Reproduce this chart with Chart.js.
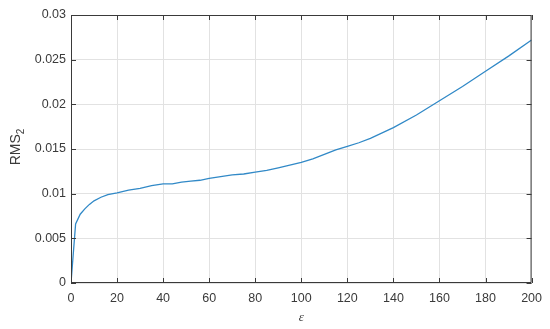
<!DOCTYPE html>
<html>
<head>
<meta charset="utf-8">
<script src="https://cdn.jsdelivr.net/npm/chart.js@4.4.1/dist/chart.umd.min.js"></script>
<style>
 html,body{margin:0;padding:0;background:#fff;}
 #wrap{width:550px;height:329px;}
</style>
</head>
<body>
<div id="wrap"><canvas id="rmsChart" width="550" height="329"></canvas></div>
<script>
// values
const epsValues = [0,2,4,6,8,10,13,16,20,25,30,35,40,44,48,52,56,60,65,70,75,80,85,90,95,100,105,110,115,120,125,130,140,150,160,170,180,190,200];
const rmsValues = [0,0.0066,0.0077,0.0083,0.0088,0.0092,0.0096,0.0099,0.0101,0.0104,0.0106,0.0109,0.0111,0.0111,0.0113,0.0114,0.0115,0.0117,0.0119,0.0121,0.0122,0.0124,0.0126,0.0129,0.0132,0.0135,0.0139,0.0144,0.0149,0.0153,0.0157,0.0162,0.0174,0.0188,0.0204,0.0220,0.0237,0.0254,0.0272];
const xTicks = [0,20,40,60,80,100,120,140,160,180,200];
const yTicks = [0,0.005,0.01,0.015,0.02,0.025,0.03];

const axisColor = '#3a3a3a';
const textColor = '#3a3a3a';
const fontFam = '"Liberation Sans", Arial, sans-serif';

// box + inward ticks + axis titles, MATLAB style
const matlabAxes = {
 id:'matlabAxes',
 afterDraw(chart){
  const c=chart.ctx, a=chart.chartArea;
  const xs=chart.scales.x, ys=chart.scales.y;
  c.save();
  c.strokeStyle=axisColor;
  c.lineWidth=1;
  c.beginPath();
  c.rect(a.left+0.5,a.top+0.5,a.right-a.left-1,a.bottom-a.top-1);
  c.stroke();
  c.beginPath();
  xTicks.forEach(v=>{
   let px=Math.round(xs.getPixelForValue(v))+0.5;
   c.moveTo(px,a.bottom); c.lineTo(px,a.bottom-5);
   c.moveTo(px,a.top); c.lineTo(px,a.top+5);
  });
  yTicks.forEach(v=>{
   let py=Math.round(ys.getPixelForValue(v))+0.5;
   c.moveTo(a.left,py); c.lineTo(a.left+5,py);
   c.moveTo(a.right,py); c.lineTo(a.right-5,py);
  });
  c.stroke();

  // y title RMS_2
  c.fillStyle=textColor;
  c.translate(20,147);
  c.rotate(-Math.PI/2);
  c.font='14px '+fontFam;
  let w1=c.measureText('RMS').width;
  c.font='10px '+fontFam;
  let w2=c.measureText('2').width;
  let x0=-(w1+w2)/2;
  c.textBaseline='alphabetic';
  c.textAlign='left';
  c.font='14px '+fontFam;
  c.fillText('RMS',x0,0);
  c.font='10px '+fontFam;
  c.fillText('2',x0+w1,4);
  c.setTransform(1,0,0,1,0,0);

  // x title epsilon
  c.font='italic 13px "Liberation Serif", serif';
  c.textAlign='center';
  c.textBaseline='middle';
  c.fillText('\u03B5',(a.left+a.right)/2,318);
  c.restore();
 }
};

new Chart(document.getElementById('rmsChart'),{
 type:'line',
 data:{
  datasets:[{
   data:epsValues.map((e,i)=>({x:e,y:rmsValues[i]})),
   borderColor:'#3189c7',
   borderWidth:1.3,
   pointRadius:0,
   tension:0,
   fill:false
  }]
 },
 options:{
  responsive:false,
  animation:false,
  layout:{padding:{left:0,right:18,top:15,bottom:0}},
  plugins:{legend:{display:false},tooltip:{enabled:false}},
  scales:{
   x:{
    type:'linear',min:0,max:200,
    afterBuildTicks:s=>{s.ticks=xTicks.map(v=>({value:v}));},
    afterFit:s=>{s.height=46;},
    grid:{color:'#e2e2e2',drawTicks:false},
    border:{display:false},
    ticks:{color:textColor,font:{family:fontFam,size:12.5},padding:8,maxRotation:0,
     callback:v=>String(v)}
   },
   y:{
    type:'linear',min:0,max:0.03,
    afterBuildTicks:s=>{s.ticks=yTicks.map(v=>({value:v}));},
    afterFit:s=>{s.width=71;},
    grid:{color:'#e2e2e2',drawTicks:false},
    border:{display:false},
    ticks:{color:textColor,font:{family:fontFam,size:12.5},padding:5,
     callback:v=>String(+v.toFixed(3))}
   }
  }
 },
 plugins:[matlabAxes]
});
</script>
</body>
</html>
